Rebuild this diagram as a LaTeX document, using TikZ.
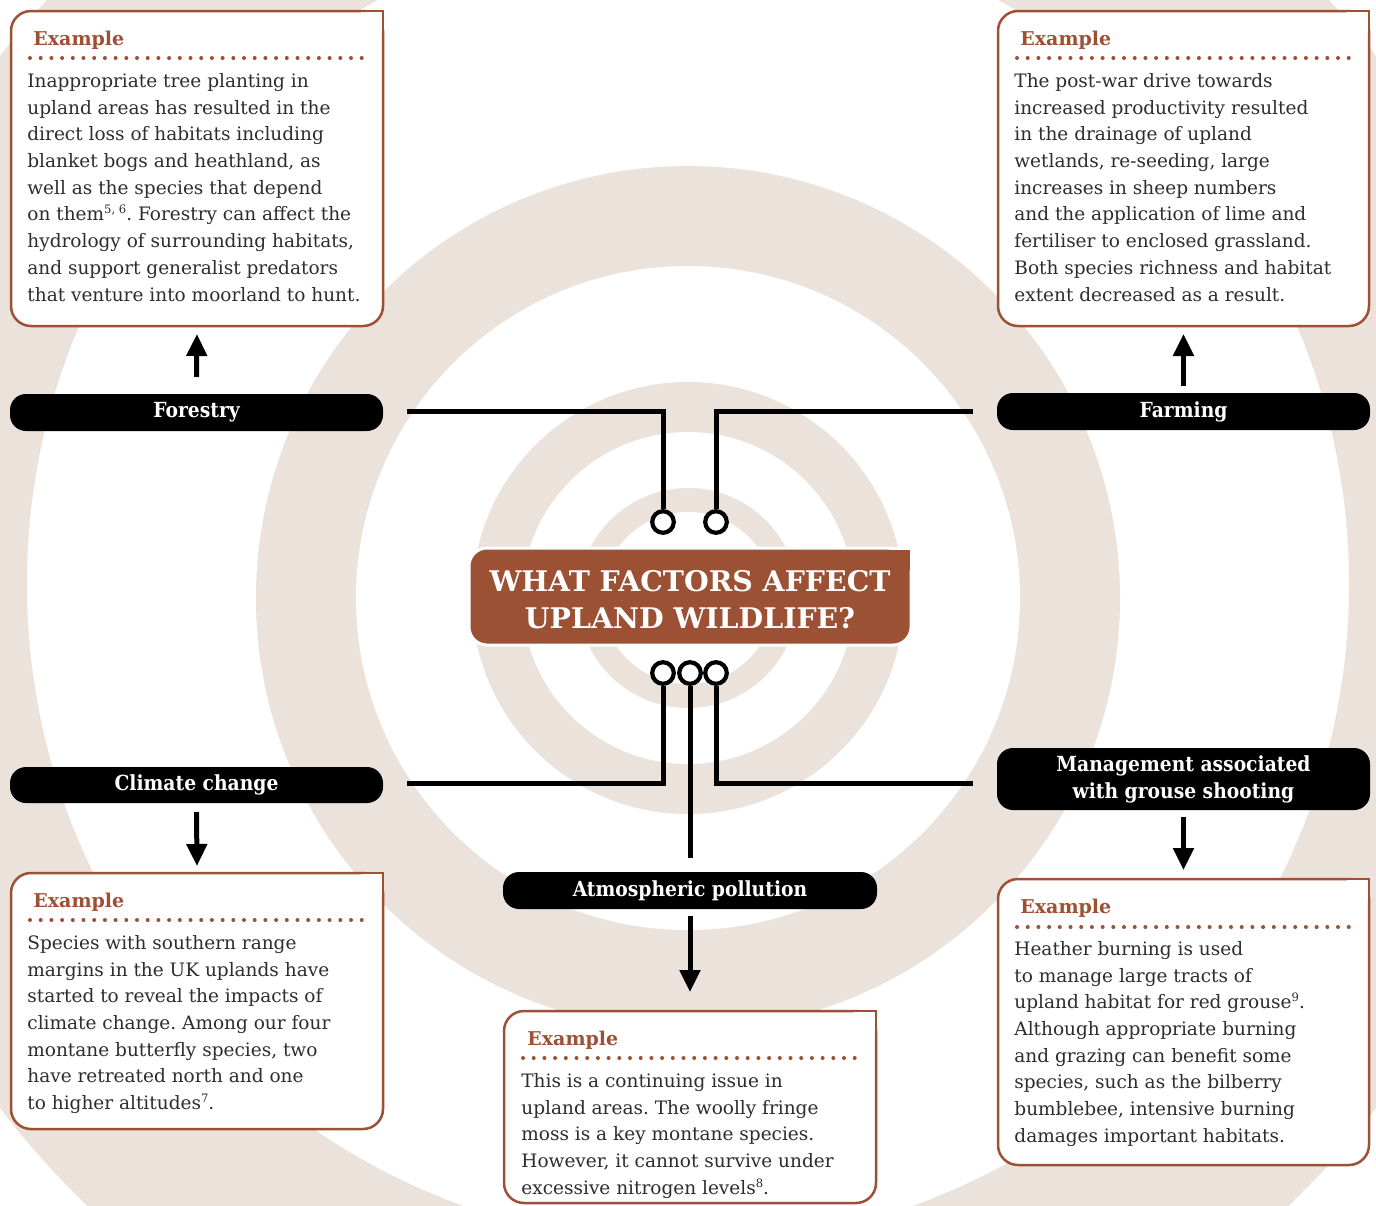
\documentclass[tikz,border=0pt]{standalone}
\usepackage{fontspec}
\setmainfont{DejaVu Serif}
\newfontfamily\labfont[FakeStretch=0.9]{DejaVu Serif}
\usetikzlibrary{arrows.meta,fit}
\definecolor{ringc}{RGB}{236,226,220}
\definecolor{rust}{RGB}{156,80,52}
\definecolor{bodyc}{RGB}{45,45,45}
\frenchspacing
\newcommand\fstrut{\rule{0pt}{10pt}}
\newcommand\supnum[1]{\raisebox{0.75ex}{\fontsize{5.8}{6}\selectfont #1}}
\newcommand\cornerfix[3]{%
  \fill[#2] ([xshift=-11pt]#1.north east) rectangle ([yshift=-11pt]#1.north east);
  \draw[#3] ([xshift=-11pt]#1.north east) -- (#1.north east) -- ([yshift=-11pt]#1.north east);}
\tikzset{
  exframe/.style={draw=rust, line width=1.25pt, fill=white, rounded corners=10pt, inner sep=0pt, outer sep=0pt},
  exedge/.style={draw=rust, line width=1.25pt},
  pill/.style={fill=black, rounded corners=8pt, inner sep=0pt, outer sep=0pt, minimum width=186.5pt, text=white, font=\labfont\bfseries\fontsize{10.4}{13.5}\selectfont, align=center},
  titlebox/.style={fill=rust, draw=white, line width=1.5pt, rounded corners=9pt, minimum width=221pt, minimum height=48.5pt, inner sep=0pt, outer sep=0pt},
  titletext/.style={inner sep=0pt, text=white, font=\bfseries\fontsize{14.2}{18.5}\selectfont, align=center},
  titleedge/.style={draw=white, line width=1.5pt},
  exhead/.style={anchor=base west, inner sep=0pt, text=rust, font=\bfseries\fontsize{9.5}{12}\selectfont},
  body/.style={anchor=north west, inner sep=0pt, align=left, text=bodyc, font=\fontsize{9.25}{13.35}\selectfont},
  dots/.style={rust, line width=2pt, line cap=round, dash pattern=on 0pt off 5.35pt},
  conn/.style={line width=2.5pt},
  hole/.style={circle, draw, fill=white, line width=2.1pt, minimum size=10.8pt, inner sep=0pt},
  arr/.style={line width=2.5pt, -{Triangle[width=10pt,length=11pt]}},
}
\begin{document}
\begin{tikzpicture}[x=0.5pt,y=-0.5pt]
\useasboundingbox (0,0) rectangle (1376,1205);
\clip (0,0) rectangle (1376,1205);
\fill[white] (0,0) rectangle (1376,1205);
% rings
\fill[ringc] (688,582) circle[radius=433pt];
\fill[white] (688,584) circle[radius=330.5pt];
\fill[ringc] (688,598) circle[radius=216pt];
\fill[white] (688,598) circle[radius=166pt];
\fill[ringc] (688,598) circle[radius=108pt];
\fill[white] (688,598) circle[radius=83pt];
\fill[ringc] (688,598) circle[radius=55pt];
\fill[white] (688,598) circle[radius=43pt];
% factor pills
\node[pill, minimum height=18.5pt] (forestry) at (196.5,412.5) {Forestry};
\node[pill, minimum height=18.5pt] (farming) at (1183.5,411.5) {Farming};
\node[pill, minimum height=18pt] (climate) at (196.5,785) {Climate change};
\node[pill, minimum height=31pt] (mgmt) at (1183.5,779) {Management associated\\with grouse shooting};
\node[pill, minimum height=18.5pt, minimum width=187pt] (atmos) at (690,890.5) {Atmospheric pollution};
% title
\node[titlebox] (title) at (690,596.5) {};
\cornerfix{title}{rust}{titleedge}
\node[titletext] (titletxt) at (690,599.5) {WHAT FACTORS AFFECT\\UPLAND WILDLIFE?};
% holes
\node[hole] (c1) at (663,522) {};
\node[hole] (c2) at (716,522) {};
\node[hole] (c3) at (663,673) {};
\node[hole] (c4) at (690,673) {};
\node[hole] (c5) at (716,673) {};
% connectors
\draw[conn] ([xshift=12pt,yshift=0.5pt]forestry.east) -| (c1);
\draw[conn] ([xshift=-12pt]farming.west) -| (c2);
\draw[conn] ([xshift=12pt,yshift=1pt]climate.east) -| (c3);
\draw[conn] ([xshift=-12pt,yshift=-2pt]mgmt.west) -| (c5);
\draw[conn] (c4) -- ([yshift=7pt]atmos.north);
% example boxes
\node[exframe, fit={(11,11) (383,326)}] (ex1) {};
\cornerfix{ex1}{white}{exedge}
\node[exframe, fit={(998,11) (1369,326)}] (ex2) {};
\cornerfix{ex2}{white}{exedge}
\node[exframe, fit={(11,873) (383,1129)}] (ex3) {};
\cornerfix{ex3}{white}{exedge}
\node[exframe, fit={(504,1011) (876,1203)}] (ex4) {};
\cornerfix{ex4}{white}{exedge}
\node[exframe, fit={(998,879) (1369,1165)}] (ex5) {};
\cornerfix{ex5}{white}{exedge}
% headings
\node[exhead] (h1) at (33,45) {Example};
\node[exhead] (h2) at (1020,45) {Example};
\node[exhead] (h3) at (33,907) {Example};
\node[exhead] (h4) at (527,1045) {Example};
\node[exhead] (h5) at (1020,913) {Example};
\draw[dots] (30,58) -- (362,58);
\draw[dots] (1017,58) -- (1349,58);
\draw[dots] (30,920) -- (362,920);
\draw[dots] (523,1058) -- (856,1058);
\draw[dots] (1017,927) -- (1349,927);
% body texts
\node[body] (t1) at (27,67) {\fstrut Inappropriate tree planting in\\upland areas has resulted in the\\direct loss of habitats including\\blanket bogs and heathland, as\\well as the species that depend\\on them\supnum{5, 6}. Forestry can affect the\\hydrology of surrounding habitats,\\and support generalist predators\\that venture into moorland to hunt.};
\node[body] (t2) at (1014,67) {\fstrut The post-war drive towards\\increased productivity resulted\\in the drainage of upland\\wetlands, re-seeding, large\\increases in sheep numbers\\and the application of lime and\\fertiliser to enclosed grassland.\\Both species richness and habitat\\extent decreased as a result.};
\node[body] (t3) at (27,929) {\fstrut Species with southern range\\margins in the UK uplands have\\started to reveal the impacts of\\climate change. Among our four\\montane butterfly species, two\\have retreated north and one\\to higher altitudes\supnum{7}.};
\node[body] (t4) at (521,1067) {\fstrut This is a continuing issue in\\upland areas. The woolly fringe\\moss is a key montane species.\\However, it cannot survive under\\excessive nitrogen levels\supnum{8}.};
\node[body] (t5) at (1014,935) {\fstrut Heather burning is used\\to manage large tracts of\\upland habitat for red grouse\supnum{9}.\\Although appropriate burning\\and grazing can benefit some\\species, such as the bilberry\\bumblebee, intensive burning\\damages important habitats.};
% arrows
\draw[arr] ([yshift=8.5pt]forestry.north) -- ([yshift=-4pt]ex1.south);
\draw[arr] ([yshift=3.5pt]farming.north) -- ([yshift=-4pt]ex2.south);
\draw[arr] ([yshift=-4.5pt]climate.south) -- ([yshift=3.5pt]ex3.north);
\draw[arr] ([yshift=-3.5pt]mgmt.south) -- ([yshift=4.5pt]ex5.north);
\draw[arr] ([yshift=-3.5pt]atmos.south) -- ([yshift=9.5pt]ex4.north);
\end{tikzpicture}
\end{document}
